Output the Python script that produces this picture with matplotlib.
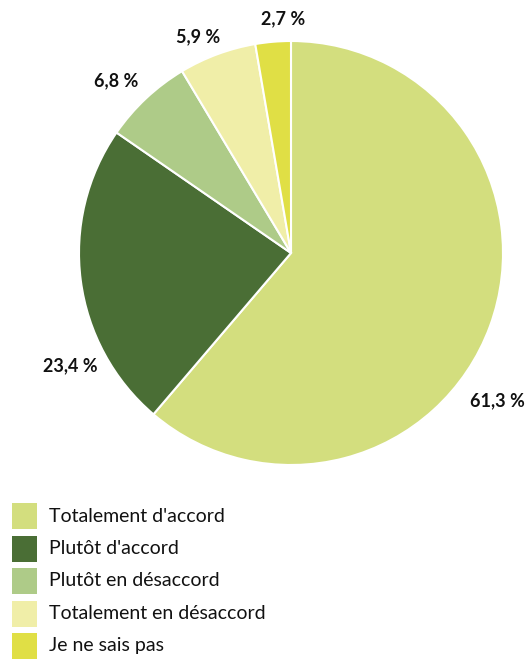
import matplotlib
matplotlib.use("Agg")
import matplotlib.pyplot as plt
from matplotlib.patches import Rectangle

categories = ["Totalement d'accord", "Plutôt d'accord", "Plutôt en désaccord",
              "Totalement en désaccord", "Je ne sais pas"]
values = [61.3, 23.4, 6.8, 5.9, 2.7]
labels = ["61,3 %", "23,4 %", "6,8 %", "5,9 %", "2,7 %"]
colors = ["#d3de7e", "#4a6e35", "#aecb88", "#f0eea8", "#e0df45"]

W, H = 528, 663
fig = plt.figure(figsize=(W / 100, H / 100), dpi=100)
plt.rcParams['font.family'] = ['Lato', 'DejaVu Sans']

cx, cy, r = 291, 253, 212
ax = fig.add_axes([(cx - r) / W, 1 - (cy + r) / H, 2 * r / W, 2 * r / H])
ax.pie(values, colors=colors, startangle=90, counterclock=False,
       wedgeprops=dict(edgecolor="white", linewidth=1.5))
ax.set_xlim(-1, 1)
ax.set_ylim(-1, 1)
ax.set_aspect("equal")
ax.axis("off")

# label positions (pixels)
label_pos = [(497, 401), (70, 366), (116, 81), (198, 37), (283, 19)]
for lab, (px, py) in zip(labels, label_pos):
    fig.text(px / W, 1 - py / H, lab, ha="center", va="center",
             fontsize=13, fontweight="bold", color="#111111")

# legend
lx, ly0, sw, sh, step = 12, 503, 25, 26, 32.5
for i, (cat, col) in enumerate(zip(categories, colors)):
    y = ly0 + i * step
    fig.patches.append(Rectangle((lx / W, 1 - (y + sh) / H), sw / W, sh / H,
                                 transform=fig.transFigure, facecolor=col,
                                 edgecolor="none"))
    fig.text(49 / W, 1 - (y + sh / 2) / H, cat, ha="left", va="center",
             fontsize=14, color="#111111")

fig.savefig("out.png", dpi=100)
